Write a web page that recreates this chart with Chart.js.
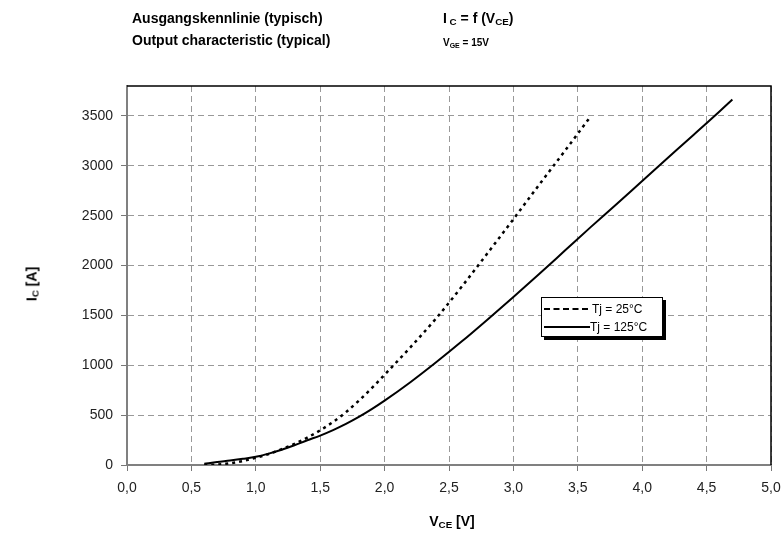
<!DOCTYPE html>
<html>
<head>
<meta charset="utf-8">
<script src="https://cdn.jsdelivr.net/npm/chart.js@4.4.1/dist/chart.umd.min.js"></script>
<style>
body { margin: 0; background: #fff; font-family: "Liberation Sans", Arial, sans-serif; }
#wrap { position: relative; width: 784px; height: 544px; }
canvas { position: absolute; left: 0; top: 0; }
.t { position: absolute; font-weight: bold; color: #000; white-space: nowrap; }
.t sub { font-size: 70%; vertical-align: -2px; }
#legend { position: absolute; left: 541px; top: 297px; width: 120px; height: 38px; border: 1px solid #000; background: #fff; box-shadow: 3px 3px 0 #000; font-size: 12px; }
.item { position: absolute; left: 2px; height: 14px; line-height: 14px; white-space: nowrap; }
.item span { display: inline-block; vertical-align: middle; }
</style>
</head>
<body>
<div id="wrap">
  <canvas id="chart" width="784" height="544"></canvas>
  <div class="t" style="left:132px;top:10px;font-size:14px">Ausgangskennlinie (typisch)</div>
  <div class="t" style="left:132px;top:32px;font-size:14px">Output characteristic (typical)</div>
  <div class="t" style="left:443px;top:10px;font-size:14px">I<sub> C</sub> = f (V<sub>CE</sub>)</div>
  <div class="t" style="left:443px;top:37px;font-size:10px">V<sub>GE</sub> = 15V</div>
  <div class="t" style="left:32px;top:284px;font-size:14px;transform:translate(-50%,-50%) rotate(-90deg);transform-origin:center">I<sub>C</sub> [A]</div>
  <div class="t" style="left:452px;top:521px;font-size:14px;transform:translate(-50%,-50%)">V<sub>CE</sub> [V]</div>
  <div id="legend"></div>
</div>
<script>
// Tj = 25°C
vce25 = [0.6, 0.7, 0.8, 0.9, 1.0, 1.1, 1.2, 1.3, 1.4, 1.5, 1.6, 1.7, 1.8, 1.9, 2.0, 2.2, 2.4, 2.6, 2.8, 3.0, 3.2, 3.4, 3.6];
ic25 = [0, 5, 18, 40, 72, 110, 158, 212, 275, 348, 432, 530, 645, 770, 905, 1180, 1470, 1790, 2125, 2465, 2810, 3150, 3495];

// Tj = 125°C
vce125 = [0.6, 0.7, 0.8, 0.9, 1.0, 1.1, 1.2, 1.3, 1.4, 1.5, 1.6, 1.7, 1.8, 1.9, 2.0, 2.2, 2.4, 2.6, 2.8, 3.0, 3.2, 3.4, 3.6, 3.8, 4.0, 4.2, 4.4, 4.6, 4.7];
ic125 = [12, 30, 45, 62, 82, 114, 153, 198, 248, 295, 350, 412, 482, 560, 645, 830, 1030, 1240, 1460, 1685, 1915, 2150, 2385, 2615, 2848, 3080, 3312, 3545, 3665];

seriesNames = ["Tj = 25°C", "Tj = 125°C"];

xTicks = [0, 0.5, 1, 1.5, 2, 2.5, 3, 3.5, 4, 4.5, 5];
yTicks = [0, 500, 1000, 1500, 2000, 2500, 3000, 3500];
xMin = 0; xMax = 5;
yMin = 0; yMax = 3800;

function toPoints(xs, ys) {
    return xs.map((x, i) => ({ x: x, y: ys[i] }));
}

const frame = {
    id: 'frame',
    afterDraw(chart) {
        const a = chart.chartArea, ctx = chart.ctx;
        ctx.save();
        ctx.strokeStyle = '#000';
        ctx.lineWidth = 1.5;
        ctx.beginPath();
        ctx.moveTo(a.left, a.top);
        ctx.lineTo(a.right, a.top);
        ctx.lineTo(a.right, a.bottom);
        ctx.stroke();
        ctx.restore();
    }
};

const tickFont = { family: 'Liberation Sans', size: 14 };

new Chart(document.getElementById('chart'), {
    type: 'scatter',
    data: {
        datasets: [{
            label: seriesNames[0],
            data: toPoints(vce25, ic25),
            showLine: true,
            borderColor: '#000',
            borderWidth: 2.5,
            borderDash: [3, 4],
            pointRadius: 0,
            cubicInterpolationMode: 'monotone'
        }, {
            label: seriesNames[1],
            data: toPoints(vce125, ic125),
            showLine: true,
            borderColor: '#000',
            borderWidth: 2,
            pointRadius: 0,
            cubicInterpolationMode: 'monotone'
        }]
    },
    options: {
        responsive: false,
        animation: false,
        layout: { padding: { top: 86, right: 13, left: 0, bottom: 0 } },
        plugins: { legend: { display: false }, tooltip: { enabled: false } },
        scales: {
            x: {
                type: 'linear',
                min: xMin,
                max: xMax,
                afterFit: s => { s.height = 79; s.paddingLeft = 0; s.paddingRight = 0; },
                afterBuildTicks: s => { s.ticks = xTicks.map(v => ({ value: v })); },
                ticks: {
                    padding: 9,
                    color: '#222',
                    font: tickFont,
                    callback: v => v.toFixed(1).replace('.', ',')
                },
                grid: { color: '#999', lineWidth: 1, tickLength: 6, tickColor: '#777', tickBorderDash: [] },
                border: { color: '#808080', width: 2, dash: [6, 4] }
            },
            y: {
                min: yMin,
                max: yMax,
                afterFit: s => { s.width = 127; s.paddingTop = 0; s.paddingBottom = 0; },
                afterBuildTicks: s => { s.ticks = yTicks.map(v => ({ value: v })); },
                ticks: {
                    padding: 8,
                    color: '#222',
                    font: tickFont,
                    callback: v => String(v)
                },
                grid: { color: '#999', lineWidth: 1, tickLength: 6, tickColor: '#777', tickBorderDash: [] },
                border: { color: '#808080', width: 2, dash: [6, 4] }
            }
        }
    },
    plugins: [frame]
});

// legend built from the series names
legendBox = document.getElementById('legend');
legendBox.innerHTML =
    '<div class="item" style="top:3px"><span style="width:44px;border-top:2px dashed #000;margin-right:4px"></span><span>' + seriesNames[0] + '</span></div>' +
    '<div class="item" style="top:21px"><span style="width:46px;border-top:2px solid #000;margin-right:0"></span><span>' + seriesNames[1] + '</span></div>';
</script>
</body>
</html>
